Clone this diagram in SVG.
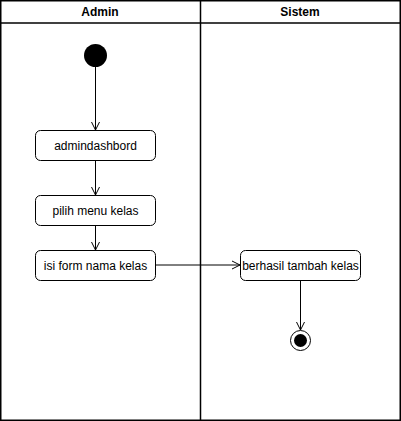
<svg xmlns="http://www.w3.org/2000/svg" width="401" height="421" viewBox="0 0 401 421">
<defs>
<style>
.lane{fill:#fff;stroke:#000;stroke-width:1.5}
.hdr{font-family:"Liberation Sans",Arial,sans-serif;font-size:12px;font-weight:bold;fill:#000;text-anchor:middle}
.act rect{fill:#fff;stroke:#000;stroke-width:1}
.act text{font-family:"Liberation Sans",Arial,sans-serif;font-size:12px;fill:#000;text-anchor:middle;dominant-baseline:central}
.edge{fill:none;stroke:#000;stroke-width:1;marker-end:url(#arr)}
</style>
<marker id="arr" viewBox="0 0 10 10" refX="9" refY="5" markerWidth="10" markerHeight="10" markerUnits="userSpaceOnUse" orient="auto">
<path d="M1,1 L9,5 L1,9" fill="none" stroke="#000" stroke-width="1"/>
</marker>
</defs>
<g id="pool">
<rect class="lane" x="0.75" y="0.75" width="399.5" height="419.5"/>
<line x1="0.75" y1="23" x2="400.25" y2="23" stroke="#000" stroke-width="1.5"/>
<line x1="200.5" y1="0.75" x2="200.5" y2="420.25" stroke="#000" stroke-width="1.5"/>
<text class="hdr" x="100" y="16">Admin</text>
<text class="hdr" x="300" y="16">Sistem</text>
</g>
<g id="connectors">
<path class="edge" d="M95.5,67 L95.5,130"/>
<path class="edge" d="M95.5,160 L95.5,195"/>
<path class="edge" d="M95.5,225 L95.5,250"/>
<path class="edge" d="M155,265 L240,265"/>
<path class="edge" d="M300.5,280 L300.5,330"/>
</g>
<g id="start"><circle cx="95.5" cy="55.5" r="11.5" fill="#000"/></g>
<g id="admindashbord" class="act"><rect x="35.5" y="130.5" width="120" height="30" rx="5"/><text x="95.5" y="145.5">admindashbord</text></g>
<g id="pilih" class="act"><rect x="35.5" y="195.5" width="120" height="30" rx="5"/><text x="95.5" y="210.5">pilih menu kelas</text></g>
<g id="isi" class="act"><rect x="35.5" y="250.5" width="120" height="30" rx="5"/><text x="95.5" y="265.5">isi form nama kelas</text></g>
<g id="berhasil" class="act"><rect x="240.5" y="250.5" width="120" height="30" rx="5"/><text x="300.5" y="265.5">berhasil tambah kelas</text></g>
<g id="end"><circle cx="300.5" cy="340.5" r="10" fill="#fff" stroke="#000" stroke-width="1"/><circle cx="300.5" cy="340.5" r="6.5" fill="#000"/></g>
</svg>
